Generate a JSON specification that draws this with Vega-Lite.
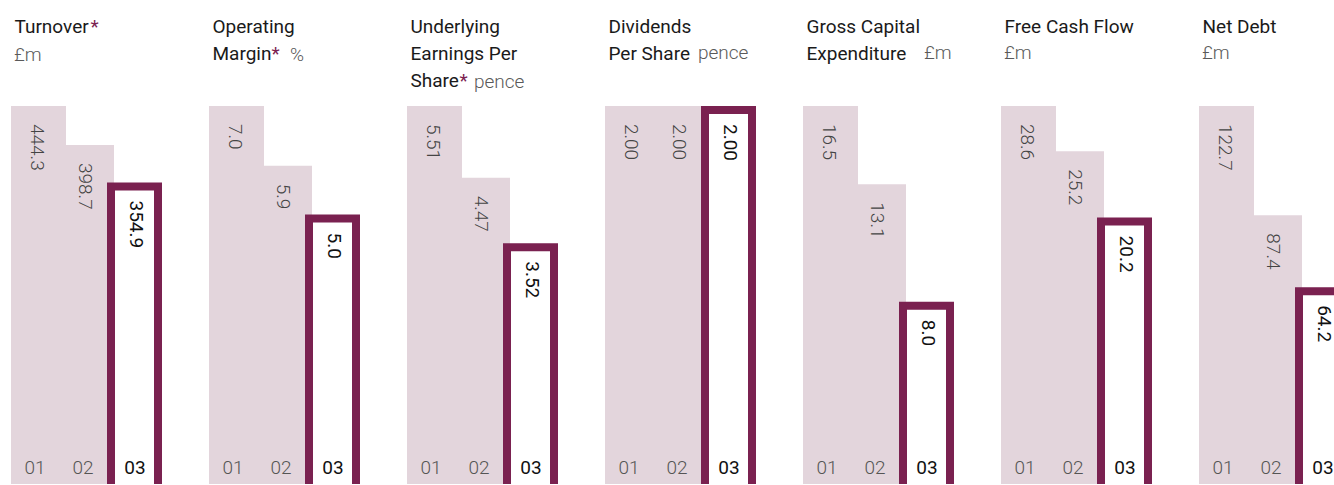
{
  "$schema": "https://vega.github.io/schema/vega-lite/v6.json",
  "background": "white",
  "padding": {"left": 11, "top": 17, "right": 0, "bottom": 0},
  "bounds": "flush",
  "spacing": 0,
  "config": {
    "view": {"stroke": null},
    "axis": {"labels": false, "ticks": false, "domain": false, "grid": false, "titleFont": "Roboto", "titleFontSize": 19, "titleFontWeight": "normal", "titleAngle": 0, "titleAlign": "left", "titleBaseline": "alphabetic", "titleLineHeight": 27, "titleColor": "#1a1a1a", "titlePadding": 0},
    "title": {"orient": "bottom", "anchor": "start", "frame": "group", "offset": 0, "baseline": "alphabetic", "color": "#5a5a5a", "fontSize": 19, "font": "Roboto", "fontWeight": 300},
    "text": {"font": "Roboto", "fontSize": 19, "fontWeight": 300}
  },
  "data": {"values": [
    {"m": "T", "year": "01", "v": 444.3}, {"m": "T", "year": "02", "v": 398.7}, {"m": "T", "year": "03", "v": 354.9},
    {"m": "OM", "year": "01", "v": 7.0}, {"m": "OM", "year": "02", "v": 5.9}, {"m": "OM", "year": "03", "v": 5.0},
    {"m": "EPS", "year": "01", "v": 5.51}, {"m": "EPS", "year": "02", "v": 4.47}, {"m": "EPS", "year": "03", "v": 3.52},
    {"m": "DPS", "year": "01", "v": 2.00}, {"m": "DPS", "year": "02", "v": 2.00}, {"m": "DPS", "year": "03", "v": 2.00},
    {"m": "GCE", "year": "01", "v": 16.5}, {"m": "GCE", "year": "02", "v": 13.1}, {"m": "GCE", "year": "03", "v": 8.0},
    {"m": "FCF", "year": "01", "v": 28.6}, {"m": "FCF", "year": "02", "v": 25.2}, {"m": "FCF", "year": "03", "v": 20.2},
    {"m": "ND", "year": "01", "v": 122.7}, {"m": "ND", "year": "02", "v": 87.4}, {"m": "ND", "year": "03", "v": 64.2}
  ]},
  "hconcat": [
    {
      "width": 197.5, "height": 378,
      "transform": [{"filter": "datum.m === 'T'"}],
      "title": {"text": "£m", "dx": 3, "dy": -444},
      "encoding": {
        "x": {"field": "year", "type": "ordinal", "scale": {"type": "band", "domain": ["01", "02", "03"], "range": [0, 144], "paddingInner": 0, "paddingOuter": 0},
          "axis": {"orient": "top", "title": ["Turnover"], "titleX": 3, "titleY": -74}},
        "y": {"field": "v", "type": "quantitative", "scale": {"zero": true, "nice": false, "range": [380, 0]},
          "axis": {"title": "*", "titleX": 79, "titleY": -74, "titleColor": "#7a2150"}}
      },
      "layer": [
        {"transform": [{"filter": "datum.year !== '03'"}], "mark": {"type": "bar", "width": 55, "xOffset": 3.5, "color": "#e3d5dc", "clip": true}},
        {"transform": [{"filter": "datum.year === '03'"}], "mark": {"type": "bar", "width": 47, "xOffset": 3.5, "yOffset": 4, "y2Offset": 10, "fill": "white", "stroke": "#7a2150", "strokeWidth": 8, "clip": true}},
        {"transform": [{"filter": "datum.year !== '03'"}], "mark": {"type": "text", "angle": 90, "align": "left", "baseline": "middle", "xOffset": 2, "yOffset": 18, "color": "#444444"}, "encoding": {"text": {"field": "v", "type": "quantitative", "format": ".1f"}}},
        {"transform": [{"filter": "datum.year === '03'"}], "mark": {"type": "text", "angle": 90, "align": "left", "baseline": "middle", "xOffset": 5, "yOffset": 18, "color": "#111111", "fontWeight": "normal"}, "encoding": {"text": {"field": "v", "type": "quantitative", "format": ".1f"}}},
        {"transform": [{"filter": "datum.year !== '03'"}], "mark": {"type": "text", "baseline": "alphabetic", "yOffset": -12, "color": "#555555"}, "encoding": {"y": {"datum": 0}, "text": {"field": "year"}}},
        {"transform": [{"filter": "datum.year === '03'"}], "mark": {"type": "text", "baseline": "alphabetic", "yOffset": -12, "xOffset": 4, "color": "#111111", "fontWeight": "normal"}, "encoding": {"y": {"datum": 0}, "text": {"field": "year"}}}
      ]
    },
    {
      "width": 197.5, "height": 378,
      "transform": [{"filter": "datum.m === 'OM'"}],
      "title": {"text": "%", "dx": 81, "dy": -444},
      "encoding": {
        "x": {"field": "year", "type": "ordinal", "scale": {"type": "band", "domain": ["01", "02", "03"], "range": [0, 144], "paddingInner": 0, "paddingOuter": 0},
          "axis": {"orient": "top", "title": ["Operating", "Margin"], "titleX": 3, "titleY": -74}},
        "y": {"field": "v", "type": "quantitative", "scale": {"zero": true, "nice": false, "range": [380, 0]},
          "axis": {"title": "*", "titleX": 62, "titleY": -47, "titleColor": "#7a2150"}}
      },
      "layer": [
        {"transform": [{"filter": "datum.year !== '03'"}], "mark": {"type": "bar", "width": 55, "xOffset": 3.5, "color": "#e3d5dc", "clip": true}},
        {"transform": [{"filter": "datum.year === '03'"}], "mark": {"type": "bar", "width": 47, "xOffset": 3.5, "yOffset": 4, "y2Offset": 10, "fill": "white", "stroke": "#7a2150", "strokeWidth": 8, "clip": true}},
        {"transform": [{"filter": "datum.year !== '03'"}], "mark": {"type": "text", "angle": 90, "align": "left", "baseline": "middle", "xOffset": 2, "yOffset": 18, "color": "#444444"}, "encoding": {"text": {"field": "v", "type": "quantitative", "format": ".1f"}}},
        {"transform": [{"filter": "datum.year === '03'"}], "mark": {"type": "text", "angle": 90, "align": "left", "baseline": "middle", "xOffset": 5, "yOffset": 18, "color": "#111111", "fontWeight": "normal"}, "encoding": {"text": {"field": "v", "type": "quantitative", "format": ".1f"}}},
        {"transform": [{"filter": "datum.year !== '03'"}], "mark": {"type": "text", "baseline": "alphabetic", "yOffset": -12, "color": "#555555"}, "encoding": {"y": {"datum": 0}, "text": {"field": "year"}}},
        {"transform": [{"filter": "datum.year === '03'"}], "mark": {"type": "text", "baseline": "alphabetic", "yOffset": -12, "xOffset": 4, "color": "#111111", "fontWeight": "normal"}, "encoding": {"y": {"datum": 0}, "text": {"field": "year"}}}
      ]
    },
    {
      "width": 197.5, "height": 378,
      "transform": [{"filter": "datum.m === 'EPS'"}],
      "title": {"text": "pence", "dx": 67, "dy": -417},
      "encoding": {
        "x": {"field": "year", "type": "ordinal", "scale": {"type": "band", "domain": ["01", "02", "03"], "range": [0, 144], "paddingInner": 0, "paddingOuter": 0},
          "axis": {"orient": "top", "title": ["Underlying", "Earnings Per", "Share"], "titleX": 3, "titleY": -74}},
        "y": {"field": "v", "type": "quantitative", "scale": {"zero": true, "nice": false, "range": [380, 0]},
          "axis": {"title": "*", "titleX": 52, "titleY": -20, "titleColor": "#7a2150"}}
      },
      "layer": [
        {"transform": [{"filter": "datum.year !== '03'"}], "mark": {"type": "bar", "width": 55, "xOffset": 3.5, "color": "#e3d5dc", "clip": true}},
        {"transform": [{"filter": "datum.year === '03'"}], "mark": {"type": "bar", "width": 47, "xOffset": 3.5, "yOffset": 4, "y2Offset": 10, "fill": "white", "stroke": "#7a2150", "strokeWidth": 8, "clip": true}},
        {"transform": [{"filter": "datum.year !== '03'"}], "mark": {"type": "text", "angle": 90, "align": "left", "baseline": "middle", "xOffset": 2, "yOffset": 18, "color": "#444444"}, "encoding": {"text": {"field": "v", "type": "quantitative", "format": ".2f"}}},
        {"transform": [{"filter": "datum.year === '03'"}], "mark": {"type": "text", "angle": 90, "align": "left", "baseline": "middle", "xOffset": 5, "yOffset": 18, "color": "#111111", "fontWeight": "normal"}, "encoding": {"text": {"field": "v", "type": "quantitative", "format": ".2f"}}},
        {"transform": [{"filter": "datum.year !== '03'"}], "mark": {"type": "text", "baseline": "alphabetic", "yOffset": -12, "color": "#555555"}, "encoding": {"y": {"datum": 0}, "text": {"field": "year"}}},
        {"transform": [{"filter": "datum.year === '03'"}], "mark": {"type": "text", "baseline": "alphabetic", "yOffset": -12, "xOffset": 4, "color": "#111111", "fontWeight": "normal"}, "encoding": {"y": {"datum": 0}, "text": {"field": "year"}}}
      ]
    },
    {
      "width": 197.5, "height": 378,
      "transform": [{"filter": "datum.m === 'DPS'"}],
      "title": {"text": "pence", "dx": 93, "dy": -444},
      "encoding": {
        "x": {"field": "year", "type": "ordinal", "scale": {"type": "band", "domain": ["01", "02", "03"], "range": [0, 144], "paddingInner": 0, "paddingOuter": 0},
          "axis": {"orient": "top", "title": ["Dividends", "Per Share"], "titleX": 3, "titleY": -74}},
        "y": {"field": "v", "type": "quantitative", "scale": {"zero": true, "nice": false, "range": [380, 0]}, "axis": null}
      },
      "layer": [
        {"transform": [{"filter": "datum.year !== '03'"}], "mark": {"type": "bar", "width": 55, "xOffset": 3.5, "color": "#e3d5dc", "clip": true}},
        {"transform": [{"filter": "datum.year === '03'"}], "mark": {"type": "bar", "width": 47, "xOffset": 3.5, "yOffset": 4, "y2Offset": 10, "fill": "white", "stroke": "#7a2150", "strokeWidth": 8, "clip": true}},
        {"transform": [{"filter": "datum.year !== '03'"}], "mark": {"type": "text", "angle": 90, "align": "left", "baseline": "middle", "xOffset": 2, "yOffset": 18, "color": "#444444"}, "encoding": {"text": {"field": "v", "type": "quantitative", "format": ".2f"}}},
        {"transform": [{"filter": "datum.year === '03'"}], "mark": {"type": "text", "angle": 90, "align": "left", "baseline": "middle", "xOffset": 5, "yOffset": 18, "color": "#111111", "fontWeight": "normal"}, "encoding": {"text": {"field": "v", "type": "quantitative", "format": ".2f"}}},
        {"transform": [{"filter": "datum.year !== '03'"}], "mark": {"type": "text", "baseline": "alphabetic", "yOffset": -12, "color": "#555555"}, "encoding": {"y": {"datum": 0}, "text": {"field": "year"}}},
        {"transform": [{"filter": "datum.year === '03'"}], "mark": {"type": "text", "baseline": "alphabetic", "yOffset": -12, "xOffset": 4, "color": "#111111", "fontWeight": "normal"}, "encoding": {"y": {"datum": 0}, "text": {"field": "year"}}}
      ]
    },
    {
      "width": 197.5, "height": 378,
      "transform": [{"filter": "datum.m === 'GCE'"}],
      "title": {"text": "£m", "dx": 121, "dy": -444},
      "encoding": {
        "x": {"field": "year", "type": "ordinal", "scale": {"type": "band", "domain": ["01", "02", "03"], "range": [0, 144], "paddingInner": 0, "paddingOuter": 0},
          "axis": {"orient": "top", "title": ["Gross Capital", "Expenditure"], "titleX": 3, "titleY": -74}},
        "y": {"field": "v", "type": "quantitative", "scale": {"zero": true, "nice": false, "range": [380, 0]}, "axis": null}
      },
      "layer": [
        {"transform": [{"filter": "datum.year !== '03'"}], "mark": {"type": "bar", "width": 55, "xOffset": 3.5, "color": "#e3d5dc", "clip": true}},
        {"transform": [{"filter": "datum.year === '03'"}], "mark": {"type": "bar", "width": 47, "xOffset": 3.5, "yOffset": 4, "y2Offset": 10, "fill": "white", "stroke": "#7a2150", "strokeWidth": 8, "clip": true}},
        {"transform": [{"filter": "datum.year !== '03'"}], "mark": {"type": "text", "angle": 90, "align": "left", "baseline": "middle", "xOffset": 2, "yOffset": 18, "color": "#444444"}, "encoding": {"text": {"field": "v", "type": "quantitative", "format": ".1f"}}},
        {"transform": [{"filter": "datum.year === '03'"}], "mark": {"type": "text", "angle": 90, "align": "left", "baseline": "middle", "xOffset": 5, "yOffset": 18, "color": "#111111", "fontWeight": "normal"}, "encoding": {"text": {"field": "v", "type": "quantitative", "format": ".1f"}}},
        {"transform": [{"filter": "datum.year !== '03'"}], "mark": {"type": "text", "baseline": "alphabetic", "yOffset": -12, "color": "#555555"}, "encoding": {"y": {"datum": 0}, "text": {"field": "year"}}},
        {"transform": [{"filter": "datum.year === '03'"}], "mark": {"type": "text", "baseline": "alphabetic", "yOffset": -12, "xOffset": 4, "color": "#111111", "fontWeight": "normal"}, "encoding": {"y": {"datum": 0}, "text": {"field": "year"}}}
      ]
    },
    {
      "width": 197.5, "height": 378,
      "transform": [{"filter": "datum.m === 'FCF'"}],
      "title": {"text": "£m", "dx": 3, "dy": -444},
      "encoding": {
        "x": {"field": "year", "type": "ordinal", "scale": {"type": "band", "domain": ["01", "02", "03"], "range": [0, 144], "paddingInner": 0, "paddingOuter": 0},
          "axis": {"orient": "top", "title": ["Free Cash Flow"], "titleX": 3, "titleY": -74}},
        "y": {"field": "v", "type": "quantitative", "scale": {"zero": true, "nice": false, "range": [380, 0]}, "axis": null}
      },
      "layer": [
        {"transform": [{"filter": "datum.year !== '03'"}], "mark": {"type": "bar", "width": 55, "xOffset": 3.5, "color": "#e3d5dc", "clip": true}},
        {"transform": [{"filter": "datum.year === '03'"}], "mark": {"type": "bar", "width": 47, "xOffset": 3.5, "yOffset": 4, "y2Offset": 10, "fill": "white", "stroke": "#7a2150", "strokeWidth": 8, "clip": true}},
        {"transform": [{"filter": "datum.year !== '03'"}], "mark": {"type": "text", "angle": 90, "align": "left", "baseline": "middle", "xOffset": 2, "yOffset": 18, "color": "#444444"}, "encoding": {"text": {"field": "v", "type": "quantitative", "format": ".1f"}}},
        {"transform": [{"filter": "datum.year === '03'"}], "mark": {"type": "text", "angle": 90, "align": "left", "baseline": "middle", "xOffset": 5, "yOffset": 18, "color": "#111111", "fontWeight": "normal"}, "encoding": {"text": {"field": "v", "type": "quantitative", "format": ".1f"}}},
        {"transform": [{"filter": "datum.year !== '03'"}], "mark": {"type": "text", "baseline": "alphabetic", "yOffset": -12, "color": "#555555"}, "encoding": {"y": {"datum": 0}, "text": {"field": "year"}}},
        {"transform": [{"filter": "datum.year === '03'"}], "mark": {"type": "text", "baseline": "alphabetic", "yOffset": -12, "xOffset": 4, "color": "#111111", "fontWeight": "normal"}, "encoding": {"y": {"datum": 0}, "text": {"field": "year"}}}
      ]
    },
    {
      "width": 138, "height": 378,
      "transform": [{"filter": "datum.m === 'ND'"}],
      "title": {"text": "£m", "dx": 3, "dy": -444},
      "encoding": {
        "x": {"field": "year", "type": "ordinal", "scale": {"type": "band", "domain": ["01", "02", "03"], "range": [0, 144], "paddingInner": 0, "paddingOuter": 0},
          "axis": {"orient": "top", "title": ["Net Debt"], "titleX": 3, "titleY": -74}},
        "y": {"field": "v", "type": "quantitative", "scale": {"zero": true, "nice": false, "range": [380, 0]}, "axis": null}
      },
      "layer": [
        {"transform": [{"filter": "datum.year !== '03'"}], "mark": {"type": "bar", "width": 55, "xOffset": 3.5, "color": "#e3d5dc", "clip": true}},
        {"transform": [{"filter": "datum.year === '03'"}], "mark": {"type": "bar", "width": 47, "xOffset": 3.5, "yOffset": 4, "y2Offset": 10, "fill": "white", "stroke": "#7a2150", "strokeWidth": 8, "clip": true}},
        {"transform": [{"filter": "datum.year !== '03'"}], "mark": {"type": "text", "angle": 90, "align": "left", "baseline": "middle", "xOffset": 2, "yOffset": 18, "color": "#444444", "clip": true}, "encoding": {"text": {"field": "v", "type": "quantitative", "format": ".1f"}}},
        {"transform": [{"filter": "datum.year === '03'"}], "mark": {"type": "text", "angle": 90, "align": "left", "baseline": "middle", "xOffset": 5, "yOffset": 18, "color": "#111111", "fontWeight": "normal", "clip": true}, "encoding": {"text": {"field": "v", "type": "quantitative", "format": ".1f"}}},
        {"transform": [{"filter": "datum.year !== '03'"}], "mark": {"type": "text", "baseline": "alphabetic", "yOffset": -12, "color": "#555555"}, "encoding": {"y": {"datum": 0}, "text": {"field": "year"}}},
        {"transform": [{"filter": "datum.year === '03'"}], "mark": {"type": "text", "baseline": "alphabetic", "yOffset": -12, "xOffset": 4, "color": "#111111", "fontWeight": "normal", "clip": true}, "encoding": {"y": {"datum": 0}, "text": {"field": "year"}}}
      ]
    }
  ]
}
